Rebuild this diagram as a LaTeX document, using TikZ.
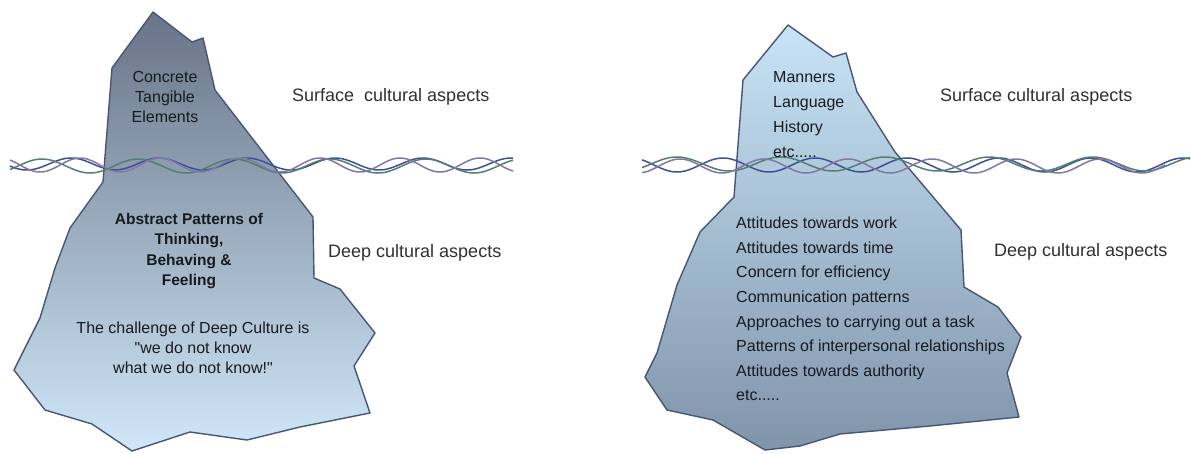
\documentclass[tikz,border=0pt]{standalone}
\usepackage{fontspec}
\setmainfont{Liberation Sans}
\newfontfamily\qfont[Ligatures=ResetAll]{Liberation Sans}
\newcommand\strq{{\qfont"}}
\definecolor{edge}{RGB}{72,86,116}
\definecolor{leftTop}{RGB}{104,116,135}
\definecolor{leftBot}{RGB}{208,232,249}
\definecolor{rightTop}{RGB}{200,228,246}
\definecolor{rightBot}{RGB}{128,148,170}
\definecolor{labelgray}{RGB}{48,48,48}
\definecolor{icetext}{RGB}{24,26,32}
\definecolor{wblue}{RGB}{62,80,150}
\definecolor{wgreen}{RGB}{84,126,112}
\definecolor{wpurple}{RGB}{128,120,166}
\begin{document}
\begin{tikzpicture}[x=1pt,y=-1pt,
  lab/.style={font=\fontsize{18}{22}\selectfont, text=labelgray, inner sep=0pt, anchor=west},
  icetxt/.style={font=\fontsize{16}{20}\selectfont, text=icetext, inner sep=0pt, align=center},
  icelist/.style={text=icetext, inner sep=0pt, align=left, anchor=west},
  berg/.style={draw=edge, line width=1.4pt, line join=round},
  wave/.style={line width=1.5pt}]
\fill[white] (0,0) rectangle (1191,453);
\useasboundingbox (0,0) rectangle (1191,453);

% left iceberg
\shade[berg, top color=leftTop, bottom color=leftBot]
  (153,12) -- (192,42) -- (203,38) -- (215,90) -- (313,217) -- (314,278)
  -- (340,289) -- (375,333) -- (354,366) -- (370,413) -- (300,427)
  -- (247,440) -- (190,432) -- (132,451) -- (92,424) -- (45,410)
  -- (14,370) -- (40,318) -- (55,268) -- (70,228) -- (103,182)
  -- (112,68) -- cycle;

% right iceberg
\shade[berg, top color=rightTop, bottom color=rightBot]
  (788,25) -- (833,57) -- (846,53) -- (857,92) -- (895,152) -- (961,230)
  -- (964,287) -- (998,307) -- (1021,337) -- (1007,373) -- (1019,417)
  -- (930,426) -- (840,434) -- (800,446) -- (765,450) -- (713,420)
  -- (667,410) -- (645,377) -- (657,353) -- (677,285) -- (700,232)
  -- (734,197) -- (743,80) -- cycle;

% left waterline
\draw[wave, wblue] plot[domain=10:513, samples=220, smooth]
  (\x, {164+6*sin((\x-5)/88*360)});
\draw[wave, wgreen] plot[domain=10:513, samples=220, smooth]
  (\x, {166+7*sin((\x+30)/96*360)});
\draw[wave, wpurple] plot[domain=10:513, samples=220, smooth]
  (\x, {165+7*sin((\x+60)/80*360)});

% right waterline
\draw[wave, wblue] plot[domain=642:1190, samples=240, smooth]
  (\x, {165+7*sin((\x-10)/92*360)});
\draw[wave, wgreen] plot[domain=642:1190, samples=240, smooth]
  (\x, {164+7*sin((\x+25)/104*360)});
\draw[wave, wpurple] plot[domain=642:1165, samples=240, smooth]
  (\x, {166+7*sin((\x+55)/84*360)});

% left texts
\node[icetxt] (concrete) at (165,97) {Concrete\\Tangible\\Elements};
\node[icetxt, font=\fontsize{15.5}{20.3}\selectfont\bfseries] (abstract) at (189,251)
  {Abstract Patterns of\\Thinking,\\Behaving \&\\Feeling};
\node[icetxt] (challenge) at (193,348)
  {The challenge of Deep Culture is\\\strq we do not know\\what we do not know!\strq};
\node[lab] (surfL) at (292,97) {Surface\ \ cultural aspects};
\node[lab] (deepL) at (328,253) {Deep cultural aspects};

% right texts
\node[icelist, font=\fontsize{16}{25}\selectfont] (manners) at (773,115)
  {Manners\\Language\\History\\etc.....};
\node[icelist, font=\fontsize{16}{24.6}\selectfont] (attitudes) at (736,309)
  {Attitudes towards work\\Attitudes towards time\\Concern for efficiency\\
   Communication patterns\\Approaches to carrying out a task\\
   Patterns of interpersonal relationships\\Attitudes towards authority\\etc.....};
\node[lab] (surfR) at (940,97) {Surface cultural aspects};
\node[lab] (deepR) at (994,252) {Deep cultural aspects};
\end{tikzpicture}
\end{document}
